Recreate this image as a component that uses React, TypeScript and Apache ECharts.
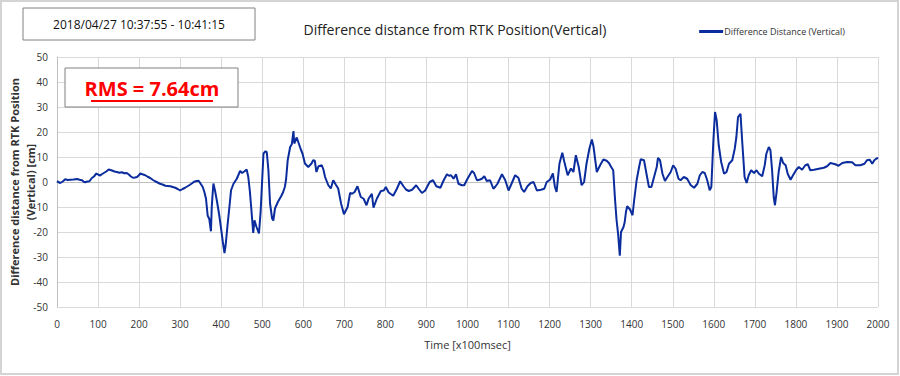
import React, { useEffect, useRef } from "react";
import * as echarts from "echarts";

const times = [
  0, 8, 14, 20, 26, 32, 40, 49, 55, 61, 65, 69, 74, 79, 85, 90, 96, 100, 105, 110, 114, 120, 126, 130, 134, 140, 146, 152, 158, 164, 170, 175, 180, 185, 190, 195, 200, 203, 208, 215, 221, 227, 233, 239, 245, 251, 257, 264, 270, 276, 282, 288, 294, 300, 306, 312, 318, 324, 330, 334, 340, 345, 350, 355, 359, 363, 367, 371, 375, 377, 379, 381, 385, 390, 395, 400, 404, 408, 411, 415, 420, 424, 430, 438, 446, 451, 456, 462, 466, 470, 473, 478, 481, 486, 492, 496, 499, 503, 508, 511, 515, 519, 524, 527, 531, 538, 546, 551, 555, 558, 562, 568, 572, 576, 578, 584, 589, 594, 598, 604, 612, 620, 624, 628, 632, 637, 645, 649, 653, 661, 667, 673, 679, 685, 692, 699, 708, 714, 719, 725, 732, 740, 747, 754, 759, 767, 771, 779, 789, 796, 801, 808, 819, 828, 836, 844, 850, 857, 865, 875, 881, 889, 897, 903, 908, 916, 924, 934, 942, 950, 955, 960, 966, 972, 978, 986, 992, 1000, 1006, 1011, 1016, 1023, 1029, 1035, 1041, 1047, 1055, 1063, 1068, 1073, 1084, 1092, 1100, 1108, 1116, 1124, 1132, 1138, 1146, 1154, 1161, 1169, 1179, 1187, 1193, 1201, 1208, 1213, 1217, 1224, 1231, 1236, 1244, 1252, 1258, 1264, 1271, 1278, 1284, 1290, 1297, 1303, 1307, 1315, 1323, 1331, 1339, 1345, 1350, 1355, 1359, 1363, 1367, 1371, 1374, 1380, 1383, 1386, 1389, 1396, 1402, 1406, 1412, 1418, 1422, 1430, 1436, 1442, 1448, 1454, 1461, 1464, 1469, 1475, 1481, 1487, 1495, 1501, 1507, 1514, 1519, 1527, 1535, 1544, 1552, 1560, 1566, 1572, 1578, 1584, 1590, 1594, 1599, 1603, 1607, 1612, 1618, 1625, 1631, 1637, 1645, 1651, 1655, 1659, 1665, 1669, 1675, 1680, 1685, 1691, 1698, 1704, 1710, 1718, 1724, 1728, 1734, 1738, 1742, 1746, 1749, 1753, 1758, 1764, 1769, 1775, 1780, 1787, 1793, 1801, 1807, 1815, 1823, 1829, 1835, 1844, 1856, 1868, 1876, 1884, 1896, 1904, 1913, 1925, 1937, 1945, 1957, 1967, 1973, 1980, 1986, 1991, 1998, 2000,
];

const values = [
  0.3, -0.4, 0.2, 1.1, 0.8, 0.9, 1.0, 1.2, 0.9, 0.7, 0.1, -0.1, 0.2, 0.3, 1.6, 2.2, 3.4, 3.0, 2.6, 3.2, 3.6, 4.2, 5.0, 4.8, 4.6, 4.2, 4.0, 3.7, 3.9, 3.5, 3.6, 3.0, 2.2, 1.7, 1.8, 2.0, 2.8, 3.4, 3.1, 2.7, 2.1, 1.6, 0.9, 0.3, -0.2, -0.7, -1.0, -1.5, -1.6, -1.7, -2.0, -2.3, -2.8, -3.4, -2.8, -2.3, -1.7, -1.1, -0.4, 0.1, 0.4, 0.5, -0.7, -2.0, -4, -6.7, -13.4, -14.8, -19.7, -10, -5, -0.6, -3.5, -8, -13, -19, -24, -28.4, -25, -18, -10, -3.3, -0.7, 1.3, 4.4, 3.6, 4.2, 5, 2, -4, -10, -20.4, -15.3, -18, -20.6, -12, -2, 11.4, 12.3, 12.0, 4.7, -8.6, -14.6, -15.4, -10.6, -8, -5.7, -4, -2, 1, 8.7, 14, 15.1, 20.4, 15.4, 17.8, 15.4, 13, 11.4, 7.4, 6, 7.4, 8.7, 8.5, 4, 6.3, 6.7, 5, 2, -1.3, -2.6, 0.7, -1, -2.6, -8.6, -12.9, -10, -4.4, -4.7, -4, -1.7, -6, -6.7, -9.3, -6.7, -4.7, -10.3, -6.7, -3.6, -3.4, -2, -4.2, -5.5, -2.7, 0.3, -1.7, -3, -3.6, -3.1, -1.3, -2.7, -4.4, -3.4, -1.5, 0, 0.7, -1.7, -2.3, 0.7, 3.1, 2.5, 2.7, 1.3, 3.1, -0.7, -1.3, -1.3, 1.3, 3, 4.4, 3.6, 0.7, 0.9, 1.3, 2.3, 0.4, 0.7, -2.7, -1.8, -0.7, 3.1, 0.7, -3.4, -0.4, 2.7, 1.7, -2.7, -4, -1.7, -0.4, 0, -3.4, -3.1, -2.7, 0, 0.9, 3.4, -2, -4, 7.4, 11.7, 8, 2.7, 5.4, 4, 10.7, 6, -1.3, 0, 7.4, 13.4, 17, 14.1, 4, 6.7, 9, 8.5, 7.5, 6, 4.7, -6, -15, -21, -29.5, -20, -18, -16, -12, -9.7, -11, -13.3, -7.3, 0.7, 6, 9.1, 8.7, 3.3, -2, -2, 1.7, 6, 9.6, 8.7, 3.3, 0.4, 2, 4, 6.7, 5.3, 1.3, 0.7, 2, 1.3, -1.3, -2.3, -0.7, 2.7, 4, 3.6, 0.7, -3.3, -2, 16.7, 28, 24.7, 14.7, 8, 3.3, 4, 7.3, 8.7, 13.3, 18, 26, 27.3, 16.7, 2, -0.4, 2.7, 4.7, 3.6, 4.7, 3.3, 2.3, 6.7, 11.3, 14, 12.7, 4.7, -6, -9.3, -4, 4, 10, 7.6, 6.7, 3.3, 0.9, 2.7, 4.9, 6, 4.9, 6.7, 7.1, 4.7, 4.9, 5.3, 5.7, 6.3, 7.6, 7.1, 6.5, 7.6, 8, 7.9, 6.7, 6.7, 7.3, 8.7, 8.9, 7.3, 8.7, 9.6, 9.3,
];

const seriesName = "Difference Distance (Vertical)";
const titleText = "Difference distance from RTK Position(Vertical)";
const dateText = "2018/04/27 10:37:55 - 10:41:15";
const rmsText = "RMS = 7.64cm";
const yAxisName = "Difference distance from RTK Position\n(Vertical) [cm]";
const xAxisName = "Time [x100msec]";

const FONT = "'Open Sans', Roboto, sans-serif";

export default function App() {
  const ref = useRef<HTMLDivElement>(null);
  useEffect(() => {
    if (!ref.current) return;
    const chart = echarts.init(ref.current, undefined, { renderer: "svg" });
    const data = times.map((t, i) => [t, values[i]]);
    chart.setOption({
      animation: false,
      backgroundColor: "#ffffff",
      title: {
        text: titleText,
        left: 450,
        top: 17,
        textAlign: "center",
        textStyle: { fontFamily: FONT, fontSize: 14, fontWeight: "normal", color: "#222" },
      },
      legend: {
        right: 50,
        top: 22,
        itemWidth: 24,
        itemHeight: 3,
        itemGap: 4,
        icon: "rect",
        textStyle: { fontFamily: FONT, fontSize: 9, color: "#333", padding: [0, 0, 0, -4] },
        data: [seriesName],
      },
      grid: { left: 57, right: 22, top: 57, bottom: 69, containLabel: false, outerBoundsMode: "none" },
      xAxis: {
        type: "value",
        min: 0,
        max: 2000,
        interval: 100,
        name: xAxisName,
        nameLocation: "middle",
        nameGap: 32,
        nameTextStyle: { fontFamily: FONT, fontSize: 11, color: "#333" },
        axisLine: { show: true, lineStyle: { color: "#bfbfbf" } },
        axisTick: { show: false },
        axisLabel: {
          fontFamily: FONT,
          fontSize: 10,
          color: "#333",
          margin: 12,
          formatter: (v: number) => String(v),
        },
        splitLine: { show: true, lineStyle: { color: "#d9d9d9" } },
      },
      yAxis: {
        type: "value",
        min: -50,
        max: 50,
        interval: 10,
        axisLine: { show: true, lineStyle: { color: "#bfbfbf" } },
        axisTick: { show: false },
        axisLabel: {
          fontFamily: FONT,
          fontSize: 10,
          color: "#333",
          margin: 9,
          formatter: (v: number) => String(v),
        },
        splitLine: { show: true, lineStyle: { color: "#d9d9d9" } },
      },
      series: [
        {
          name: seriesName,
          type: "line",
          data,
          showSymbol: false,
          symbol: "none",
          lineStyle: { color: "#0b2c9c", width: 2 },
          itemStyle: { color: "#0b2c9c" },
          z: 5,
        },
      ],
      graphic: [
        {
          type: "rect",
          shape: { x: 1, y: 1, width: 897, height: 373 },
          style: { fill: "none", stroke: "#d4d4d4", lineWidth: 2 },
          silent: true,
          z: 100,
        },
        {
          type: "text",
          x: 22,
          y: 182,
          rotation: Math.PI / 2,
          style: {
            text: yAxisName,
            fontFamily: FONT,
            fontSize: 11,
            fontWeight: "bold",
            fill: "#333",
            lineHeight: 16,
            align: "center",
            verticalAlign: "middle",
          },
          z: 11,
        },
        {
          type: "rect",
          shape: { x: 23, y: 8, width: 232, height: 32 },
          style: { fill: "#ffffff", stroke: "#808080", lineWidth: 1 },
          z: 10,
        },
        {
          type: "text",
          x: 139,
          y: 24,
          style: {
            text: dateText,
            fontFamily: FONT,
            fontSize: 12,
            fill: "#111",
            align: "center",
            verticalAlign: "middle",
          },
          z: 11,
        },
        {
          type: "rect",
          shape: { x: 65, y: 68, width: 173, height: 39 },
          style: { fill: "#ffffff", stroke: "#808080", lineWidth: 1 },
          z: 10,
        },
        {
          type: "text",
          x: 152,
          y: 88,
          style: {
            text: rmsText,
            fontFamily: FONT,
            fontSize: 20,
            fontWeight: "bold",
            fill: "#ff0000",
            align: "center",
            verticalAlign: "middle",
          },
          z: 11,
        },
        {
          type: "line",
          shape: { x1: 91, y1: 101, x2: 213, y2: 101 },
          style: { stroke: "#ff0000", lineWidth: 2 },
          z: 11,
        },
      ],
    });
    return () => chart.dispose();
  }, []);
  return (
    <div
      ref={ref}
      style={{ position: "fixed", left: 0, top: 0, width: 900, height: 376 }}
    />
  );
}
